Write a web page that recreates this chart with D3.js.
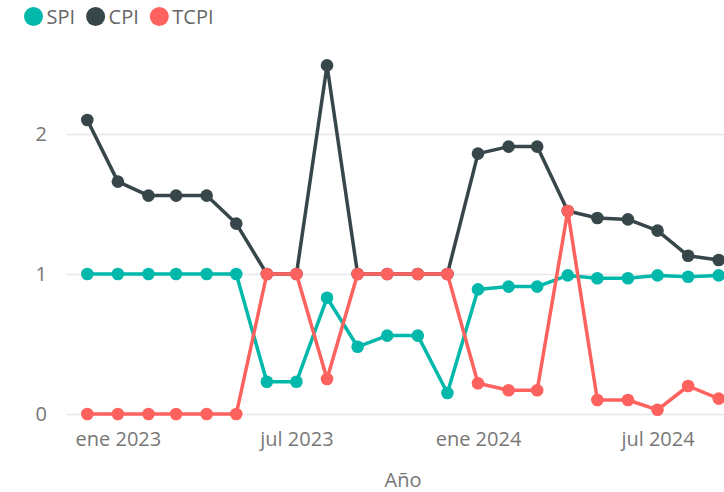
<!DOCTYPE html>
<html lang="es">

<head>
    <meta charset="UTF-8">
    <title>SPI CPI TCPI</title>
    <script src="https://d3js.org/d3.v7.min.js"></script>
    <style>
        body {
            margin: 0;
            background: #fff;
        }

        text {
            font-family: "Open Sans", "Segoe UI", sans-serif;
        }
    </style>
</head>

<body>

    <svg id="chart"></svg>

    <script>
        // months from dic 2022 to sep 2024 (first day of each month)
        const months = [
            "2022-12", "2023-01", "2023-02", "2023-03", "2023-04", "2023-05",
            "2023-06", "2023-07", "2023-08", "2023-09", "2023-10", "2023-11",
            "2023-12", "2024-01", "2024-02", "2024-03", "2024-04", "2024-05",
            "2024-06", "2024-07", "2024-08", "2024-09"
        ];

        const spi = [1.0, 1.0, 1.0, 1.0, 1.0, 1.0, 0.23, 0.23, 0.83, 0.48, 0.56, 0.56,
            0.15, 0.89, 0.91, 0.91, 0.99, 0.97, 0.97, 0.99, 0.98, 0.99];
        const cpi = [2.1, 1.66, 1.56, 1.56, 1.56, 1.36, 1.0, 1.0, 2.49, 1.0, 1.0, 1.0,
            1.0, 1.86, 1.91, 1.91, 1.45, 1.4, 1.39, 1.31, 1.13, 1.1];
        const tcpi = [0, 0, 0, 0, 0, 0, 1.0, 1.0, 0.25, 1.0, 1.0, 1.0,
            1.0, 0.22, 0.17, 0.17, 1.45, 0.1, 0.1, 0.03, 0.2, 0.11];

        const yTicks = [0, 1, 2];
        const xTicks = ["2023-01", "2023-07", "2024-01", "2024-07"];
        const mesesCortos = ["ene", "feb", "mar", "abr", "may", "jun", "jul", "ago", "sep", "oct", "nov", "dic"];

        const series = [
            { name: "SPI", values: spi, color: "#01B8AA" },
            { name: "CPI", values: cpi, color: "#374649" },
            { name: "TCPI", values: tcpi, color: "#FD625E" }
        ];

        const width = 724, height = 492;
        const parse = s => new Date(Date.UTC(+s.slice(0, 4), +s.slice(5, 7) - 1, 1));
        const dates = months.map(parse);

        const svg = d3.select("#chart")
            .attr("width", width)
            .attr("height", height);

        const x = d3.scaleUtc()
            .domain([dates[0], dates[dates.length - 1]])
            .range([87.3, 718.7]);

        const y = d3.scaleLinear()
            .domain([0, 2])
            .range([414, 134]);

        // gridlines + y labels
        const yAxis = d3.axisLeft(y)
            .tickValues(yTicks)
            .tickSize(-(width - 67))
            .tickPadding(20)
            .tickFormat(d3.format("d"));

        const gy = svg.append("g")
            .attr("transform", "translate(67,0)")
            .call(yAxis);
        gy.select(".domain").remove();
        gy.selectAll(".tick line").attr("stroke", "#e8e8e8").attr("stroke-width", 1.5);
        gy.selectAll(".tick text")
            .attr("fill", "#777")
            .attr("font-size", 20)
            .attr("x", -20);

        // x labels
        const xAxis = d3.axisBottom(x)
            .tickValues(xTicks.map(parse))
            .tickSize(0)
            .tickPadding(0)
            .tickFormat(d => mesesCortos[d.getUTCMonth()] + " " + d.getUTCFullYear());

        const gx = svg.append("g")
            .attr("transform", "translate(0,430)")
            .call(xAxis);
        gx.select(".domain").remove();
        gx.selectAll(".tick text")
            .attr("fill", "#777")
            .attr("font-size", 20)
            .attr("dy", "0.71em")
            .attr("y", 2);

        svg.append("text")
            .attr("x", 403)
            .attr("y", 487)
            .attr("text-anchor", "middle")
            .attr("fill", "#777")
            .attr("font-size", 20)
            .text("Año");

        // lines and markers
        const line = d3.line()
            .x((d, i) => x(dates[i]))
            .y(d => y(d));

        series.forEach(s => {
            const g = svg.append("g");
            g.append("path")
                .datum(s.values)
                .attr("fill", "none")
                .attr("stroke", s.color)
                .attr("stroke-width", 3.5)
                .attr("stroke-linejoin", "round")
                .attr("d", line);
            g.selectAll("circle")
                .data(s.values)
                .join("circle")
                .attr("cx", (d, i) => x(dates[i]))
                .attr("cy", d => y(d))
                .attr("r", 6.3)
                .attr("fill", s.color);
        });

        // legend
        let lx = 24;
        series.forEach(s => {
            svg.append("circle")
                .attr("cx", lx + 9.5)
                .attr("cy", 16.5)
                .attr("r", 9.5)
                .attr("fill", s.color);
            const t = svg.append("text")
                .attr("x", lx + 22.5)
                .attr("y", 24)
                .attr("fill", "#666")
                .attr("font-size", 20)
                .text(s.name);
            lx += 22.5 + t.node().getComputedTextLength() + 11;
        });
    </script>
</body>

</html>
